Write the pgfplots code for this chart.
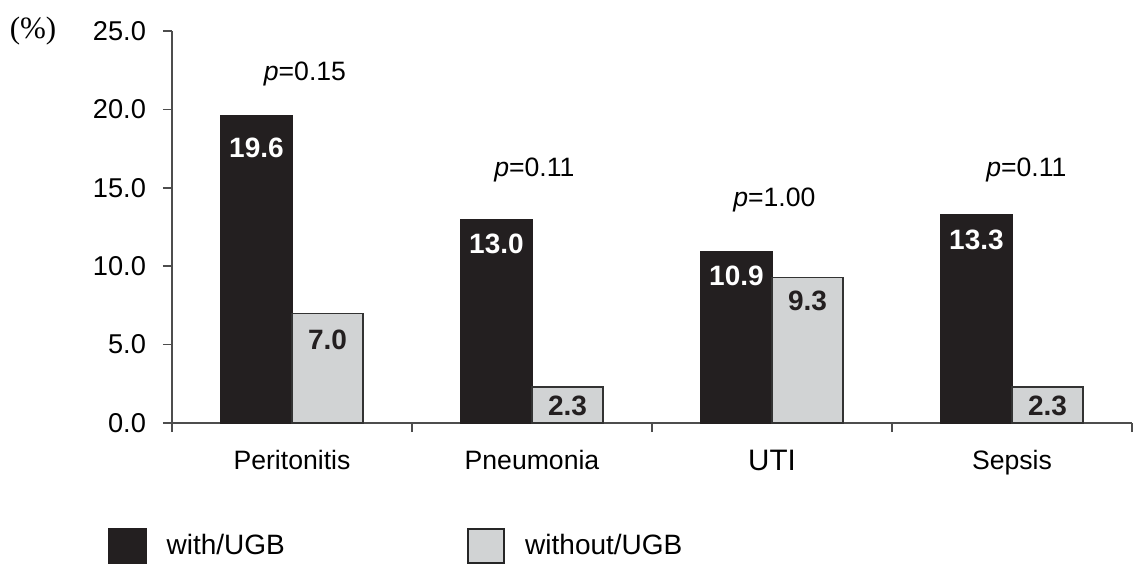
\documentclass[border=0pt]{standalone}
\usepackage{pgfplots}
\pgfplotsset{compat=1.18}
\usepackage{pgfplotstable}
\usepackage{fontspec}
\setmainfont{Liberation Sans}
\newfontfamily\seriffont{Liberation Serif}
\definecolor{barblack}{HTML}{231F20}
\definecolor{bargray}{HTML}{D1D3D4}
\definecolor{axisgray}{HTML}{4D4D4D}

\pgfplotstableread{
x with without
0 19.6 7.0
1 13.0 2.3
2 10.9 9.3
3 13.3 2.3
}\datatable

\pgfplotstableread{
x y label
-0.148 17.57 19.6
0.852 11.45 13.0
1.852 9.41 10.9
2.852 11.70 13.3
}\withlabels

\pgfplotstableread{
x y label
0.148 5.33 7.0
1.148 1.08 2.3
2.148 7.81 9.3
3.148 1.08 2.3
}\withoutlabels

\begin{document}
\begin{tikzpicture}
\begin{axis}[
  scale only axis, width=480pt, height=196pt,
  xmin=-0.5, xmax=3.5, ymin=0, ymax=25,
  clip=false,
  axis lines*=left,
  axis line style={axisgray, line width=0.8pt},
  ybar=0pt, bar width=35.5pt,
  xtick={-0.5,0.5,1.5,2.5,3.5}, xticklabels={},
  extra x ticks={0,1,2,3},
  extra x tick labels={Peritonitis,Pneumonia,{\fontsize{14.8}{17}\selectfont UTI},Sepsis},
  extra x tick style={major tick length=0pt,
     xticklabel style={font=\fontsize{13.3}{15}\selectfont, yshift=-10pt}},
  ytick={0,5,10,15,20,25},
  /pgf/number format/fixed, /pgf/number format/fixed zerofill, /pgf/number format/precision=1,
  /pgf/number format/assume math mode=true,
  yticklabel style={font=\fontsize{13.6}{16}\selectfont, xshift=-5pt},
  tick align=outside, major tick length=4.5pt,
  tick style={axisgray, line width=0.8pt},
  legend style={draw=none, fill=none, legend columns=2,
     at={(rel axis cs:0,0)}, anchor=west, xshift=-32pt, yshift=-61.5pt,
     inner sep=0pt, font=\fontsize{14}{16}\selectfont,
     /tikz/every odd column/.append style={column sep=8pt},
     /tikz/every even column/.append style={column sep=89pt}},
  legend cell align=left,
]
\addplot[fill=barblack, draw=barblack, line width=0.6pt,
  legend image code/.code={\draw[fill=barblack, draw=barblack] (0pt,-8.5pt) rectangle (18.5pt,8.5pt);}]
  table[x=x, y=with] {\datatable};
\addlegendentry{with/UGB}
\addplot[fill=bargray, draw=black!80, line width=0.6pt,
  legend image code/.code={\draw[fill=bargray, draw=black!85, line width=1.2pt] (0pt,-8.5pt) rectangle (18pt,8.5pt);}]
  table[x=x, y=without] {\datatable};
\addlegendentry{without/UGB}

\addplot[draw=none, fill=none, forget plot, only marks, mark=none, bar shift=0pt,
  nodes near coords, point meta=explicit symbolic,
  every node near coord/.style={anchor=center, text=white, font=\bfseries\fontsize{14}{16}\selectfont}]
  table[x=x, y=y, meta=label] {\withlabels};
\addplot[draw=none, fill=none, forget plot, only marks, mark=none, bar shift=0pt,
  nodes near coords, point meta=explicit symbolic,
  every node near coord/.style={anchor=center, text=barblack, font=\bfseries\fontsize{14}{16}\selectfont}]
  table[x=x, y=y, meta=label] {\withoutlabels};

\node[font=\fontsize{13.3}{15}\selectfont] at (axis cs:0.054,22.26) {\textit{p}=0.15};
\node[font=\fontsize{13.3}{15}\selectfont] at (axis cs:1.01,16.14) {\textit{p}=0.11};
\node[font=\fontsize{13.3}{15}\selectfont] at (axis cs:2.01,14.2) {\textit{p}=1.00};
\node[font=\fontsize{13.3}{15}\selectfont] at (axis cs:3.06,16.14) {\textit{p}=0.11};
\node[font=\seriffont\fontsize{15.5}{18}\selectfont] at (axis cs:-0.5,25) [xshift=-69.5pt] {(\%)};

\coordinate (bl) at (rel axis cs:0,0);
\coordinate (tr) at (rel axis cs:1,1);
\end{axis}
\pgfresetboundingbox
\path ([xshift=-86pt, yshift=-70pt]bl) rectangle ([xshift=1pt, yshift=15.5pt]tr);
\end{tikzpicture}
\end{document}
